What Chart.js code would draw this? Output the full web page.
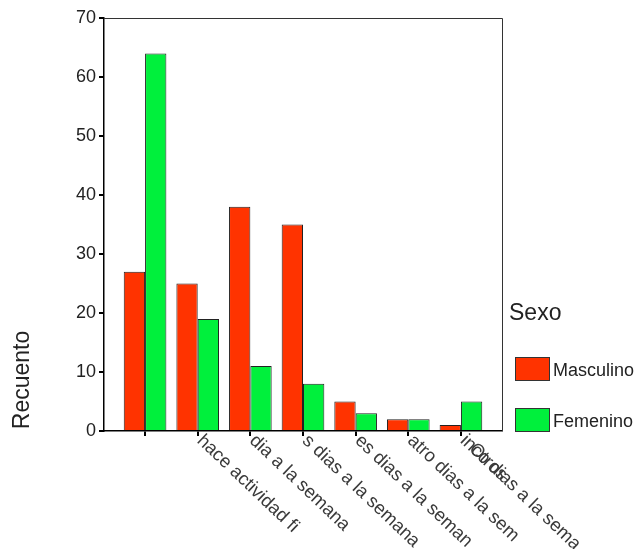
<!DOCTYPE html>
<html>
<head>
<meta charset="utf-8">
<script src="https://cdn.jsdelivr.net/npm/chart.js@4/dist/chart.umd.min.js"></script>
<style>
  body { margin: 0; background: #fff; }
  canvas { display: block; }
</style>
</head>
<body>
<canvas id="chart" width="639" height="549"></canvas>
<script>
// categories (labels are cut off in the original output)
const categories = ['', 'hace actividad fi', 'dia a la semana', 's dias a la semana', 'es dias a la seman', 'atro dias a la sem', 'inco dias a la sema'];
const overlapLabel = 'Otros'; // printed on top of the last category label
const masculino = [27, 25, 38, 35, 5, 2, 1];
const femenino = [64, 19, 11, 8, 3, 2, 5];
const yMin = 0, yMax = 70, yStep = 10;
const yTitle = 'Recuento';
const legendTitle = 'Sexo';

const FONT = '"Liberation Sans", Arial, sans-serif';
Chart.defaults.font.family = FONT;

// frame, rotated labels, axis title and legend drawn on top
const extras = {
  id: 'extras',
  afterDraw(chart) {
    const { ctx, chartArea: a, scales: { x } } = chart;
    ctx.save();

    // box round the plot
    ctx.strokeStyle = '#333';
    ctx.lineWidth = 1;
    ctx.beginPath();
    ctx.moveTo(a.left, a.top + 0.5);
    ctx.lineTo(a.right + 0.5, a.top + 0.5);
    ctx.lineTo(a.right + 0.5, a.bottom);
    ctx.stroke();

    // category labels, going down to the right
    ctx.fillStyle = '#3a3a3a';
    ctx.font = '18.5px ' + FONT;
    ctx.textAlign = 'left';
    ctx.textBaseline = 'middle';
    categories.forEach((c, i) => {
      ctx.save();
      ctx.translate(x.getPixelForValue(i) + 2, a.bottom + 7);
      ctx.rotate(0.76);
      ctx.fillText(c, 0, 0);
      if (i === categories.length - 1) ctx.fillText(overlapLabel, 12, 0);
      ctx.restore();
    });

    // y axis title
    ctx.save();
    ctx.translate(29, 380);
    ctx.rotate(-Math.PI / 2);
    ctx.textAlign = 'center';
    ctx.textBaseline = 'alphabetic';
    ctx.fillStyle = '#222';
    ctx.font = '23px ' + FONT;
    ctx.fillText(yTitle, 0, 0);
    ctx.restore();

    // legend
    ctx.fillStyle = '#222';
    ctx.font = '23px ' + FONT;
    ctx.textAlign = 'left';
    ctx.fillText(legendTitle, 509, 314);
    ctx.font = '18px ' + FONT;
    chart.data.datasets.forEach((ds, i) => {
      const top = 357 + i * 51;
      ctx.fillStyle = ds.backgroundColor;
      ctx.fillRect(515, top, 35, 24);
      ctx.strokeStyle = '#333';
      ctx.strokeRect(515.5, top + 0.5, 34, 23);
      ctx.fillStyle = '#222';
      ctx.fillText(ds.label, 553, top + 14);
    });

    ctx.restore();
  }
};

const barStyle = {
  borderColor: '#222',
  borderWidth: 1,
  categoryPercentage: 0.81,
  barPercentage: 1
};

new Chart(document.getElementById('chart').getContext('2d'), {
  type: 'bar',
  data: {
    datasets: [
      Object.assign({ label: 'Masculino', data: masculino.map((v, i) => ({ x: i, y: v })), backgroundColor: '#ff3300' }, barStyle),
      Object.assign({ label: 'Femenino', data: femenino.map((v, i) => ({ x: i, y: v })), backgroundColor: '#00f03c' }, barStyle)
    ]
  },
  options: {
    responsive: false,
    animation: false,
    layout: { padding: { top: 18, right: 137, left: 0, bottom: 0 } },
    plugins: {
      legend: { display: false },
      tooltip: { enabled: false }
    },
    scales: {
      x: {
        type: 'linear',
        offset: false,
        min: -0.78,
        max: categories.length - 1 + 0.78,
        afterBuildTicks: s => { s.ticks = categories.map((c, i) => ({ value: i })); },
        afterFit: s => { s.height = 118; },
        ticks: { display: false },
        grid: { display: true, offset: false, drawOnChartArea: false, drawTicks: true, tickLength: 5, color: '#000', lineWidth: 2 },
        border: { display: true, color: '#000', width: 1.5 }
      },
      y: {
        min: yMin,
        max: yMax,
        afterFit: s => { s.width = 104; },
        ticks: { stepSize: yStep, color: '#222', padding: 3, font: { size: 18 } },
        grid: { display: true, drawOnChartArea: false, drawTicks: true, tickLength: 5, color: '#000', lineWidth: 2 },
        border: { display: true, color: '#000', width: 1.5 }
      }
    }
  },
  plugins: [extras]
});
</script>
</body>
</html>
